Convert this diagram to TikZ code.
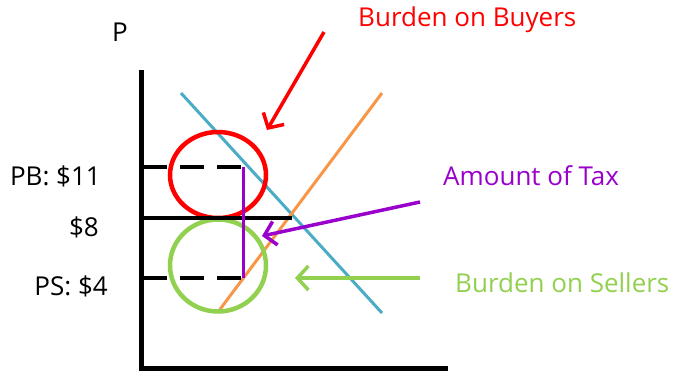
\documentclass[tikz,border=0pt]{standalone}
\usepackage{fontspec}
\setmainfont{Open Sans}
\usetikzlibrary{arrows.meta}
\definecolor{cred}{HTML}{FF0000}
\definecolor{cpurple}{HTML}{9900CC}
\definecolor{cgreen}{HTML}{92D050}
\definecolor{cblue}{HTML}{4BACC6}
\definecolor{corange}{HTML}{F79646}
\tikzset{
  axis/.style={line width=5pt, black},
  curve/.style={line width=3pt},
  ring/.style={line width=4.5pt},
  dash line/.style={line width=4pt, black, dash pattern=on 24pt off 13pt},
  lbl/.style={font=\fontsize{26pt}{28pt}\selectfont, inner sep=0pt},
  pointer/.style={line width=3.5pt, -{Straight Barb[length=11pt,width=24pt,line width=3.5pt]}},
}
\begin{document}
\begin{tikzpicture}[x=1pt,y=-1pt]
\useasboundingbox (0,0) rectangle (694,373);
% axes
\coordinate (top) at (141,70);
\coordinate (origin) at (141,368);
\coordinate (xend) at (448,368);
\draw[axis] (top) -- (origin) -- (xend);
\node[lbl] (P) at (120,32) {P};
% curves
\coordinate (d1) at (181,93);
\coordinate (d2) at (382,313);
\coordinate (s1) at (218,312);
\coordinate (s2) at (382,93);
\draw[curve, cblue] (d1) -- (d2);
\draw[curve, corange] (s1) -- (s2);
% circles
\draw[ring, cred] (218,175) ellipse [x radius=48, y radius=43];
\draw[ring, cgreen] (218,265.5) ellipse [x radius=48, y radius=46];
% price lines
\coordinate (pb0) at (143,167);
\coordinate (pb1) at (243,167);
\coordinate (ps0) at (143,278);
\coordinate (ps1) at (243,278);
\coordinate (pe0) at (143,218);
\coordinate (pe1) at (292,218);
\draw[dash line] (pb0) -- (pb1);
\draw[dash line] (ps0) -- (ps1);
\draw[line width=4pt, black] (pe0) -- (pe1);
\draw[line width=3pt, cpurple] (pb1) -- (ps1);
% labels
\node[lbl, anchor=east] (pb) at (101,176) {PB: \$11};
\node[lbl, anchor=east] (pe) at (99,227) {\$8};
\node[lbl, anchor=east] (ps) at (108,286) {PS: \$4};
% annotations
\node[lbl, cred, anchor=west] (buy) at (358,20) {Burden on Buyers};
\node[lbl, cpurple, anchor=west] (tax) at (443,176) {Amount of Tax};
\node[lbl, cgreen, anchor=west] (sell) at (455,283) {Burden on Sellers};
\coordinate (ra0) at (324,32);
\coordinate (ra1) at (267,130);
\coordinate (pa0) at (420,202);
\coordinate (pa1) at (262,236);
\coordinate (ga0) at (420,278);
\coordinate (ga1) at (295,278);
\draw[pointer, cred] (ra0) -- (ra1);
\draw[pointer, cpurple] (pa0) -- (pa1);
\draw[pointer, cgreen] (ga0) -- (ga1);
\end{tikzpicture}
\end{document}
